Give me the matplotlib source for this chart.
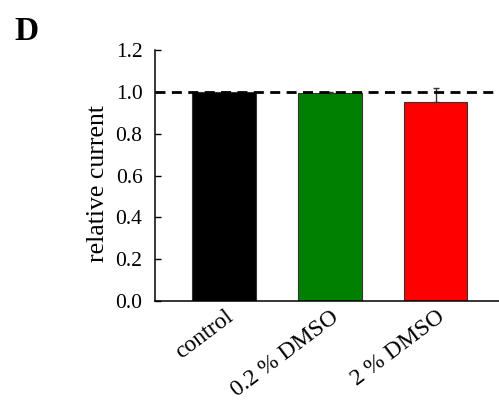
import matplotlib
matplotlib.use("Agg")
import matplotlib.pyplot as plt
import matplotlib.transforms as mtransforms

categories = ["control", "0.2 % DMSO", "2 % DMSO"]
values = [1.0, 0.997, 0.952]
errors = [0.0, 0.005, 0.066]
colors = ["#000000", "#008000", "#ff0000"]
yticks = [0.0, 0.2, 0.4, 0.6, 0.8, 1.0, 1.2]

plt.rcParams['font.family'] = ['Liberation Serif', 'DejaVu Serif']

fig = plt.figure(figsize=(4.99, 4.07), dpi=100)
ax = fig.add_axes([0.3106, 0.2612, 0.7007, 0.615])

x = list(range(len(categories)))
ax.bar(x, values, width=0.6, color=colors, edgecolor="#333333", linewidth=0.8, zorder=2)
ax.errorbar(x, values, yerr=[[0]*len(errors), errors], fmt="none", ecolor="#333333",
            elinewidth=1, capsize=2.5, capthick=1, zorder=3)
ax.axhline(1.0, color="black", linestyle=(0, (3.6, 2.3)), linewidth=2, zorder=4)

ax.set_xlim(-0.654, 2.654)
ax.set_ylim(0, 1.2)
ax.set_yticks(yticks)
ax.set_yticklabels([f"{t:.1f}" for t in yticks], fontsize=15.5)
ax.tick_params(axis="y", direction="in", length=4, width=1, pad=9)
ax.tick_params(axis="x", length=0, pad=4)
ax.set_xticks(x)
ax.set_xticklabels(categories, fontsize=17, rotation=37, ha="right", va="top",
                   rotation_mode="anchor")
offset = mtransforms.ScaledTranslation(0.5/72, 0, fig.dpi_scale_trans)
for lbl in ax.get_xticklabels():
    lbl.set_transform(lbl.get_transform() + offset)

ax.spines["top"].set_visible(False)
for s in ("left", "bottom", "right"):
    ax.spines[s].set_linewidth(1.1)

ax.set_ylabel("relative current", fontsize=18.5)
ax.yaxis.set_label_coords(-0.132, 0.468)
fig.text(0.028, (407 - 40) / 407, "D", fontsize=24, fontweight="bold",
         ha="left", va="baseline")

fig.savefig("out.png", dpi=100)
